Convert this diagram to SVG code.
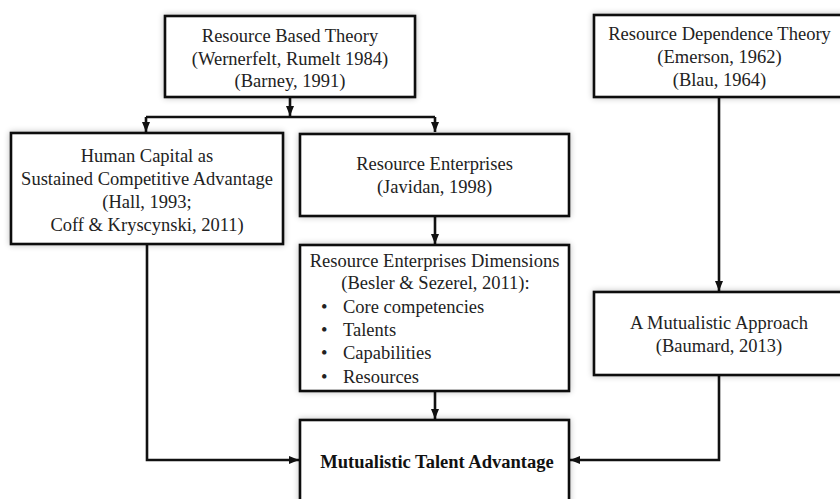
<svg xmlns="http://www.w3.org/2000/svg" width="840" height="499" viewBox="0 0 840 499">
<defs>
<style>
.box{fill:#fff;stroke:#111;stroke-width:2.6;filter:url(#sh)}
.t{font-family:"Liberation Serif","Times New Roman",serif;font-size:18.5px;fill:#222;text-anchor:middle}
.l{text-anchor:start}
.b{font-weight:bold;fill:#111}
.c{fill:none;stroke:#111;stroke-width:2.6}
</style>
<filter id="sh" x="-10%" y="-10%" width="120%" height="120%">
<feGaussianBlur in="SourceAlpha" stdDeviation="3" result="b"/>
<feComponentTransfer in="b" result="s"><feFuncA type="linear" slope="0.25"/></feComponentTransfer>
<feMerge><feMergeNode in="s"/><feMergeNode in="SourceGraphic"/></feMerge>
</filter>
<marker id="ah" markerUnits="userSpaceOnUse" markerWidth="10" markerHeight="10" viewBox="0 0 10 10" refX="10" refY="5" orient="auto">
<path d="M0,1 L10,5 L0,9 Z" fill="#111"/>
</marker>
</defs>
<rect width="840" height="499" fill="#fff"/>
<g id="connectors">
<path class="c" d="M290,97 V116" marker-end="url(#ah)"/>
<path class="c" d="M146,117 H435"/>
<path class="c" d="M146,117 V132" marker-end="url(#ah)"/>
<path class="c" d="M435,117 V132" marker-end="url(#ah)"/>
<path class="c" d="M435,216 V244" marker-end="url(#ah)"/>
<path class="c" d="M435,391 V419" marker-end="url(#ah)"/>
<path class="c" d="M147,244 V460 H299" marker-end="url(#ah)"/>
<path class="c" d="M719,97 V291" marker-end="url(#ah)"/>
<path class="c" d="M719,375 V460 H570" marker-end="url(#ah)"/>
</g>
<g id="rbt">
<rect class="box" x="165" y="16" width="250" height="81"/>
<text class="t" x="290" y="42">Resource Based Theory</text>
<text class="t" x="290" y="64.5">(Wernerfelt, Rumelt 1984)</text>
<text class="t" x="290" y="87">(Barney, 1991)</text>
</g>
<g id="hc">
<rect class="box" x="11" y="133" width="272" height="111"/>
<text class="t" x="147" y="162">Human Capital as</text>
<text class="t" x="147" y="185">Sustained Competitive Advantage</text>
<text class="t" x="147" y="208">(Hall, 1993;</text>
<text class="t" x="147" y="231">Coff &amp; Kryscynski, 2011)</text>
</g>
<g id="re">
<rect class="box" x="300" y="134" width="269" height="82"/>
<text class="t" x="434.5" y="170">Resource Enterprises</text>
<text class="t" x="434.5" y="193">(Javidan, 1998)</text>
</g>
<g id="red">
<rect class="box" x="300" y="245" width="269" height="146"/>
<text class="t" x="434.5" y="267">Resource Enterprises Dimensions</text>
<text class="t" x="435.5" y="289">(Besler &amp; Sezerel, 2011):</text>
<text class="t l" x="321" y="313">•</text>
<text class="t l" x="343" y="313">Core competencies</text>
<text class="t l" x="321" y="336">•</text>
<text class="t l" x="343" y="336">Talents</text>
<text class="t l" x="321" y="359">•</text>
<text class="t l" x="343" y="359">Capabilities</text>
<text class="t l" x="321" y="383">•</text>
<text class="t l" x="343" y="383">Resources</text>
</g>
<g id="mta">
<rect class="box" x="300" y="420" width="269" height="90"/>
<text class="t b" x="437" y="468">Mutualistic Talent Advantage</text>
</g>
<g id="rdt">
<rect class="box" x="594" y="15" width="250" height="82"/>
<text class="t" x="719.5" y="40">Resource Dependence Theory</text>
<text class="t" x="719.5" y="63">(Emerson, 1962)</text>
<text class="t" x="719.5" y="86">(Blau, 1964)</text>
</g>
<g id="ma">
<rect class="box" x="594" y="292" width="250" height="83"/>
<text class="t" x="719" y="329">A Mutualistic Approach</text>
<text class="t" x="719" y="352">(Baumard, 2013)</text>
</g>
</svg>
